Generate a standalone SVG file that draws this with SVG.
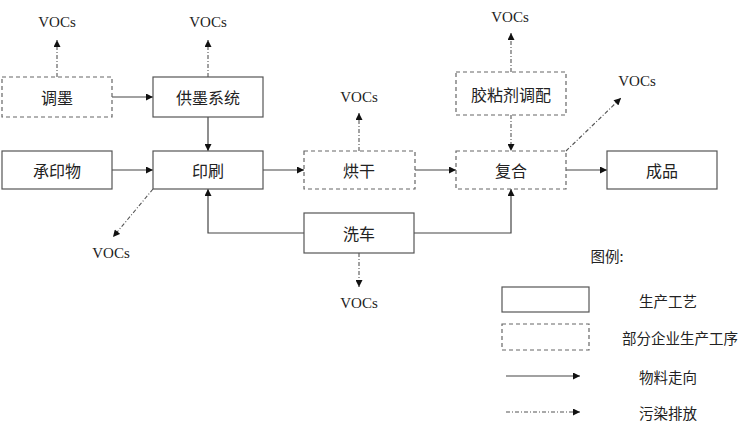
<svg xmlns="http://www.w3.org/2000/svg" width="750" height="433" viewBox="0 0 750 433">
<style>
.box{fill:#fff;stroke:#555;stroke-width:1.2}
.dbox{fill:#fff;stroke:#666;stroke-width:1.2;stroke-dasharray:4,3}
.t{font-family:"Noto Sans CJK SC",sans-serif;font-size:16px;fill:#222;text-anchor:middle;dominant-baseline:central}
.lt{font-family:"Noto Sans CJK SC",sans-serif;font-size:14.5px;fill:#222;text-anchor:middle;dominant-baseline:central}
.v{font-family:"Liberation Serif","DejaVu Serif",serif;font-size:15px;fill:#222;text-anchor:middle;dominant-baseline:central}
.s{fill:none;stroke:#444;stroke-width:1.2;marker-end:url(#ah)}
.d{fill:none;stroke:#555;stroke-width:1.1;stroke-dasharray:4,2,1,2;marker-end:url(#ah)}
</style>
<defs>
<marker id="ah" viewBox="0 0 10 10" refX="10" refY="5" markerWidth="9" markerHeight="7" markerUnits="userSpaceOnUse" orient="auto">
<path d="M0,0 L10,5 L0,10 Z" fill="#111"/>
</marker>
</defs>
<rect width="750" height="433" fill="#fff"/>
<g id="connectors">
<line class="s" x1="112" y1="97" x2="153" y2="97"/>
<line class="s" x1="208" y1="117" x2="208" y2="151"/>
<line class="s" x1="112" y1="170" x2="153" y2="170"/>
<line class="s" x1="263" y1="170" x2="304" y2="170"/>
<line class="s" x1="415" y1="170" x2="456" y2="170"/>
<line class="s" x1="566" y1="170" x2="607" y2="170"/>
<polyline class="s" points="304,233 208,233 208,189"/>
<polyline class="s" points="414,233 511,233 511,189"/>
<line class="d" x1="57" y1="77" x2="57" y2="40"/>
<line class="d" x1="208" y1="77" x2="208" y2="40"/>
<line class="d" x1="359" y1="151" x2="359" y2="113"/>
<line class="d" x1="511" y1="72" x2="511" y2="33"/>
<line class="d" x1="511" y1="115" x2="511" y2="151"/>
<line class="d" x1="566" y1="151" x2="621" y2="98"/>
<line class="d" x1="153" y1="189" x2="113" y2="237"/>
<line class="d" x1="359" y1="253" x2="359" y2="287"/>
</g>
<g id="voc-labels">
<text class="v" x="57" y="22">VOCs</text>
<text class="v" x="208" y="22">VOCs</text>
<text class="v" x="359" y="97">VOCs</text>
<text class="v" x="510" y="17">VOCs</text>
<text class="v" x="637" y="81">VOCs</text>
<text class="v" x="111" y="253">VOCs</text>
<text class="v" x="359" y="303">VOCs</text>
</g>
<g id="n-tiaomo"><rect class="dbox" x="2" y="77" width="110" height="40"/><text class="t" x="57" y="97">调墨</text></g>
<g id="n-gongmo"><rect class="box" x="153" y="77" width="110" height="40"/><text class="t" x="208" y="97">供墨系统</text></g>
<g id="n-chengyin"><rect class="box" x="2" y="151" width="110" height="38"/><text class="t" x="57" y="170">承印物</text></g>
<g id="n-yinshua"><rect class="box" x="153" y="151" width="110" height="38"/><text class="t" x="208" y="170">印刷</text></g>
<g id="n-honggan"><rect class="dbox" x="304" y="151" width="111" height="38"/><text class="t" x="359" y="170">烘干</text></g>
<g id="n-jiaonian"><rect class="dbox" x="456" y="72" width="110" height="43"/><text class="t" x="511" y="94">胶粘剂调配</text></g>
<g id="n-fuhe"><rect class="dbox" x="456" y="151" width="110" height="38"/><text class="t" x="511" y="170">复合</text></g>
<g id="n-chengpin"><rect class="box" x="607" y="151" width="110" height="38"/><text class="t" x="662" y="170">成品</text></g>
<g id="n-xiche"><rect class="box" x="304" y="213" width="110" height="40"/><text class="t" x="359" y="233">洗车</text></g>
<g id="legend">
<text class="lt" x="607" y="255">图例:</text>
<rect class="box" x="502" y="287" width="87" height="25"/>
<text class="lt" x="668" y="300">生产工艺</text>
<rect class="dbox" x="502" y="324" width="87" height="26"/>
<text class="lt" x="680" y="337">部分企业生产工序</text>
<line class="s" x1="506" y1="376" x2="580" y2="376"/>
<text class="lt" x="668" y="376">物料走向</text>
<line class="d" x1="506" y1="412" x2="580" y2="412"/>
<text class="lt" x="668" y="412">污染排放</text>
</g>
</svg>
